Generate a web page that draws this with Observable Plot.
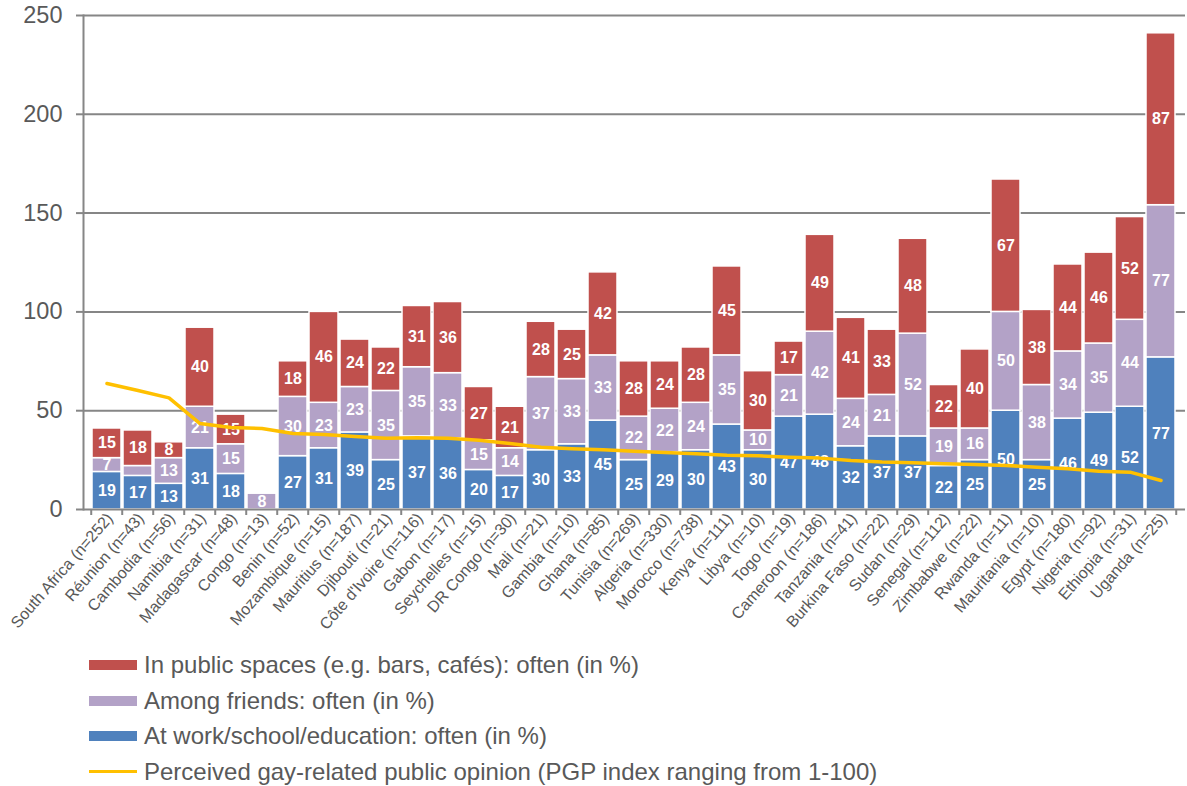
<!DOCTYPE html>
<html><head><meta charset="utf-8">
<script src="https://cdn.jsdelivr.net/npm/d3@7"></script>
<script src="https://cdn.jsdelivr.net/npm/@observablehq/plot@0.6"></script>
<style>
body{margin:0;background:#fff;font-family:"Liberation Sans",Arial,sans-serif;}
#chart svg{display:block}
#legend{margin-left:89px;margin-top:0}
.row{display:flex;align-items:center;height:35.7px;font-size:24px;color:#595959;white-space:nowrap}
.sw{width:48px;height:10px;margin-right:7px;flex:none}
.ln{width:48px;height:3px;margin-right:7px;flex:none}
</style></head><body>
<div id="chart"></div>
<div id="legend"></div>
<script>
const countries = ["South Africa (n=252)","Réunion (n=43)","Cambodia (n=56)","Namibia (n=31)","Madagascar (n=48)","Congo (n=13)","Benin (n=52)","Mozambique (n=15)","Mauritius (n=187)","Djibouti (n=21)","Côte d'Ivoire (n=116)","Gabon (n=17)","Seychelles (n=15)","DR Congo (n=30)","Mali (n=21)","Gambia (n=10)","Ghana (n=85)","Tunisia (n=269)","Algeria (n=330)","Morocco (n=738)","Kenya (n=111)","Libya (n=10)","Togo (n=19)","Cameroon (n=186)","Tanzania (n=41)","Burkina Faso (n=22)","Sudan (n=29)","Senegal (n=112)","Zimbabwe (n=22)","Rwanda (n=11)","Mauritania (n=10)","Egypt (n=180)","Nigeria (n=92)","Ethiopia (n=31)","Uganda (n=25)"];
const work    = [19,17,13,31,18,0,27,31,39,25,37,36,20,17,30,33,45,25,29,30,43,30,47,48,32,37,37,22,25,50,25,46,49,52,77];
const friends = [7,5,13,21,15,8,30,23,23,35,35,33,15,14,37,33,33,22,22,24,35,10,21,42,24,21,52,19,16,50,38,34,35,44,77];
const publicSpaces = [15,18,8,40,15,0,18,46,24,22,31,36,27,21,28,25,42,28,24,28,45,30,17,49,41,33,48,22,40,67,38,44,46,52,87];
const pgp = [63.8,60.2,56.5,43.5,41.5,41,38.5,38,37,36,36.3,36,35,33.4,31.5,30.8,30.3,29.5,28.8,28.2,27.5,27.2,26.5,26,24.8,24,23.6,23.2,22.8,22.3,21.4,20.6,19.4,18.9,14.7];
const yTicks = [0,50,100,150,200,250];
const gridTicks = [50,100,150,200,250];
const seriesNames = ["At work/school/education: often (in %)","Among friends: often (in %)","In public spaces (e.g. bars, cafés): often (in %)"];
const seriesColors = ["#4F81BD","#B3A2C7","#C0504D"];
const lineName = "Perceived gay-related public opinion (PGP index ranging from 1-100)";
const lineColor = "#FFC000";

const seriesValues = [work, friends, publicSpaces];
const rows = [];
countries.forEach((c, i) => {
  let acc = 0;
  seriesValues.forEach((vals, s) => {
    const v = vals[i];
    rows.push({country: c, series: s, value: v, y1: acc, y2: acc + v, mid: acc + v / 2});
    acc += v;
  });
});
const bars = rows.filter(d => d.value > 0);
const labels = rows.filter(d => d.value > 5);
const lineData = countries.map((c, i) => ({country: c, pgp: pgp[i]}));

const padInner = 0.05;
function boundaryTicks(index, scales) {
  const x = scales.x, y = scales.y;
  const step = x(countries[1]) - x(countries[0]);
  const y0 = y(0);
  const g = d3.create("svg:g").attr("stroke", "#868686").attr("stroke-width", 2);
  for (let i = 0; i <= countries.length; i++) {
    const xs = (i < countries.length ? x(countries[i]) : x(countries[countries.length - 1]) + step) - step * padInner / 2;
    g.append("line").attr("x1", xs).attr("x2", xs).attr("y1", y0).attr("y2", y0 + 6);
  }
  return g.node();
}

const chart = Plot.plot({
  width: 1187,
  height: 647,
  marginTop: 15,
  marginLeft: 83,
  marginRight: 2,
  marginBottom: 138,
  style: {fontFamily: "'Liberation Sans', Arial, sans-serif", background: "white", overflow: "visible"},
  x: {domain: countries, paddingInner: padInner, paddingOuter: padInner / 2, label: null},
  y: {domain: [0, 250], label: null},
  marks: [
    Plot.ruleY(gridTicks, {stroke: "#868686", strokeWidth: 2}),
    Plot.barY(bars, {x: "country", y1: "y1", y2: "y2", fill: d => seriesColors[d.series], stroke: "white", strokeWidth: 1.5}),
    Plot.text(labels, {x: "country", y: "mid", text: "value", fill: "white", fontWeight: "bold", fontSize: 16}),
    Plot.line(lineData, {x: "country", y: "pgp", stroke: lineColor, strokeWidth: 3.5, curve: "linear"}),
    Plot.ruleY([0], {stroke: "#868686", strokeWidth: 2}),
    Plot.frame({anchor: "left", stroke: "#868686", strokeWidth: 2}),
    boundaryTicks,
    Plot.axisY(yTicks, {anchor: "left", tickSize: 7, tickPadding: 14, fontSize: 23.5, stroke: "#868686", strokeWidth: 2, fill: "#595959", label: null}),
    Plot.axisX({anchor: "bottom", tickSize: 0, tickPadding: 6, tickRotate: -49, dx: 3, fontSize: 16, fill: "#595959", label: null})
  ]
});
document.getElementById("chart").appendChild(chart);

const legend = document.getElementById("legend");
const items = [
  {name: seriesNames[2], color: seriesColors[2], type: "sw"},
  {name: seriesNames[1], color: seriesColors[1], type: "sw"},
  {name: seriesNames[0], color: seriesColors[0], type: "sw"},
  {name: lineName, color: lineColor, type: "ln"}
];
items.forEach(it => {
  const row = document.createElement("div");
  row.className = "row";
  const sw = document.createElement("span");
  sw.className = it.type;
  sw.style.background = it.color;
  const t = document.createElement("span");
  t.textContent = it.name;
  row.appendChild(sw); row.appendChild(t);
  legend.appendChild(row);
});
</script>
</body></html>
